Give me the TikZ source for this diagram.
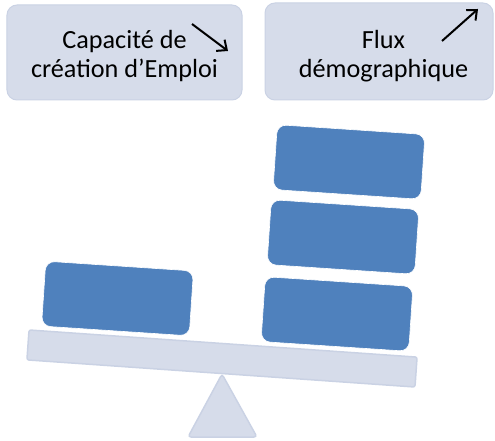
\documentclass[tikz,border=0pt]{standalone}
\usepackage{fontspec}
\setmainfont{Carlito}
\usetikzlibrary{arrows.meta}
\definecolor{panelFill}{HTML}{D6DCEA}
\definecolor{panelLine}{HTML}{CAD2E4}
\definecolor{blockFill}{HTML}{4F81BD}
\definecolor{arrowColor}{HTML}{000000}
\def\textCap{Capacité de\\création d’Emploi}
\def\textFlux{Flux\\démographique}
\tikzset{
  panel/.style={fill=panelFill, draw=panelLine, line width=1bp, rounded corners=10bp,
    align=center, inner sep=0pt, font=\fontsize{26.3}{28.5}\selectfont},
  block/.style={fill=blockFill, draw=white, line width=0.6bp, rounded corners=9bp,
    minimum width=148bp, minimum height=65bp, inner sep=0pt, rotate=-3.8},
  trend/.style={draw=arrowColor, line width=2bp, -{Straight Barb[length=8bp,width=14bp]}}
}

\begin{document}
\begin{tikzpicture}[x=1bp,y=-1bp]
\useasboundingbox (0,0) rectangle (495,441);

% label layer
\begin{scope}
\node[panel, minimum width=235bp, minimum height=95bp] (capBox) at (124.5, 52.5) {};
\node[panel, minimum width=228bp, minimum height=97bp] (fluxBox) at (379, 51.5) {};
\node[panel, draw=none, fill=none] (capText) at (124.5, 56) {\textCap};
\node[panel, draw=none, fill=none] (fluxText) at (383.5, 56) {\textFlux};
\end{scope}

% trend arrows
\begin{scope}
\coordinate (capFrom) at (192, 24);
\coordinate (capTo) at (228, 51);
\coordinate (fluxFrom) at (442, 41);
\coordinate (fluxTo) at (478, 9);
\draw[trend] (capFrom) -- (capTo);
\draw[trend] (fluxFrom) -- (fluxTo);
\end{scope}

% balance
\begin{scope}
\fill[panelFill, draw=panelLine, line width=1.5bp, rounded corners=3bp]
(222, 374) -- (257, 437) -- (188, 437) -- cycle;
\node[fill=panelFill, draw=panelLine, line width=1.5bp, rounded corners=2bp,
  minimum width=389bp, minimum height=30bp, inner sep=0pt, rotate=-4] (beam) at (222, 358.5) {};
\end{scope}

% block layer
\begin{scope}
\node[block] (leftBlock) at (117.5, 298.5) {};
\node[block] (rightLow) at (337, 314) {};
\node[block] (rightMid) at (343, 237) {};
\node[block] (rightTop) at (349, 162) {};
\end{scope}

\end{tikzpicture}
\end{document}
